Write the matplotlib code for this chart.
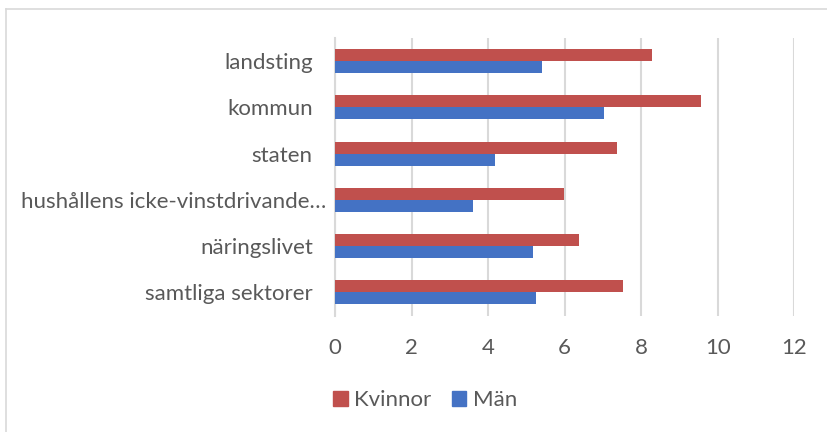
import matplotlib
matplotlib.use("Agg")
import matplotlib.pyplot as plt
import numpy as np
from matplotlib.lines import Line2D
from matplotlib.patches import Patch
from matplotlib.transforms import ScaledTranslation

categories = ["samtliga sektorer", "näringslivet", "hushållens icke-vinstdrivande…",
              "staten", "kommun", "landsting"]
kvinnor = [7.53, 6.37, 5.99, 7.37, 9.56, 8.29]
man = [5.26, 5.18, 3.61, 4.18, 7.03, 5.41]
xticks = [0, 2, 4, 6, 8, 10, 12]

RED = "#C0504D"
BLUE = "#4472C4"
TXT = "#595959"

plt.rcParams['font.family'] = ['Lato', 'DejaVu Sans']

fig = plt.figure(figsize=(8.27, 4.32), dpi=100)
W, H = 827, 432
ax = fig.add_axes([335 / W, 1 - 315.5 / H, (794.3 - 335) / W, (315.5 - 38) / H])

y = np.arange(len(categories))
h = 0.258
ax.barh(y + h / 2, kvinnor, height=h, color=RED, label="Kvinnor", zorder=3)
ax.barh(y - h / 2, man, height=h, color=BLUE, label="Män", zorder=3)

ax.set_xlim(0, 12)
ax.set_ylim(-0.5, len(categories) - 0.5)
ax.set_xticks(xticks)
ax.set_xticklabels([str(t) for t in xticks])
ax.set_yticks(y)
ax.set_yticklabels(categories)
ax.tick_params(axis='both', length=0, labelsize=16, colors=TXT)
ax.tick_params(axis='x', pad=16)
ax.tick_params(axis='y', pad=16)
ax.xaxis.grid(True, color="#D9D9D9", linewidth=1.5, zorder=0)
for s in ["top", "right", "bottom"]:
    ax.spines[s].set_visible(False)
ax.spines["left"].set_color("#D9D9D9")
ax.spines["left"].set_linewidth(1.5)

# truncated label sits closer to the axis, as in the original
for lbl in ax.get_yticklabels():
    if lbl.get_text().endswith("…"):
        lbl.set_transform(lbl.get_transform() + ScaledTranslation(0.13, 0, fig.dpi_scale_trans))

handles = [Patch(color=RED, label="Kvinnor"), Patch(color=BLUE, label="Män")]
fig.legend(handles=handles, loc="center", bbox_to_anchor=(425 / W, 1 - 400 / H),
           ncol=2, frameon=False, fontsize=16, handlelength=0.65, handleheight=0.65,
           handletextpad=0.3, columnspacing=0.9, labelcolor=TXT)

# chart border
fig.add_artist(Line2D([6 / W, 1], [1 - 9 / H, 1 - 9 / H], color="#D9D9D9", lw=1.2, transform=fig.transFigure))
fig.add_artist(Line2D([6 / W, 6 / W], [0, 1 - 9 / H], color="#D9D9D9", lw=1.2, transform=fig.transFigure))

fig.savefig("out.png", dpi=100)
